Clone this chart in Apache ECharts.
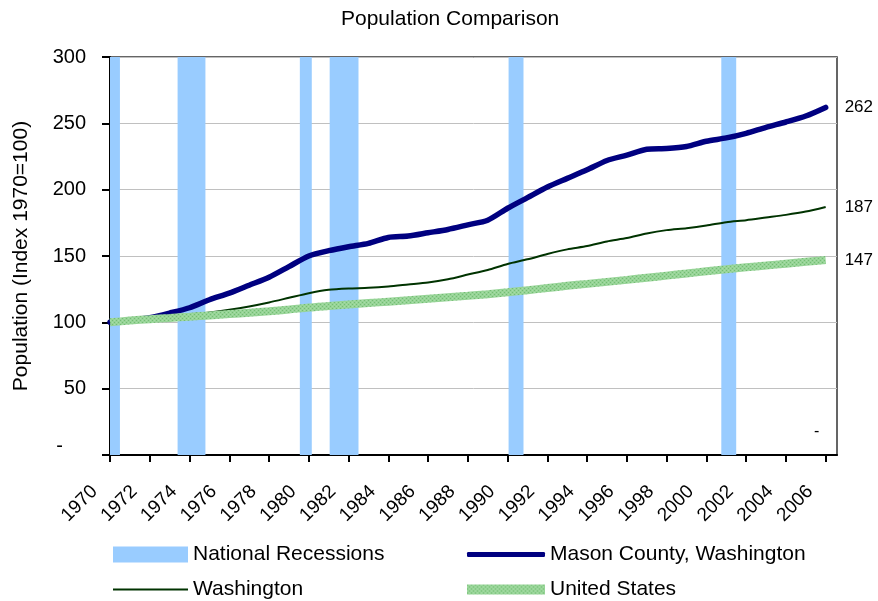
<!DOCTYPE html>
<html>
<head>
<meta charset="utf-8">
<script src="https://cdn.jsdelivr.net/npm/echarts@6/dist/echarts.min.js"></script>
<style>
html,body{margin:0;padding:0;background:#fff;}
#chart{width:878px;height:601px;}
</style>
</head>
<body>
<div id="chart"></div>
<script>
const years = [1970,1971,1972,1973,1974,1975,1976,1977,1978,1979,1980,1981,1982,1983,1984,1985,1986,1987,1988,1989,1990,1991,1992,1993,1994,1995,1996,1997,1998,1999,2000,2001,2002,2003,2004,2005,2006];
const mason = [100,101.5,103.5,107,111,117,122,128,134,142,150,154,157,159.5,164,165,167.5,170,173.5,177,186,194,202,208.5,215,222,226,230.5,231,232.5,236.5,239,242.5,247,251,255.5,262];
const washington = [100,100.5,102,104,106,107.5,109.5,112,115,118.5,122,124.5,125.5,126,127,128.5,130,132.5,136,139.5,144,147.5,151.5,155,157.5,161,163.5,167,169.5,171,173,175.5,177,179,181,183.5,187];
const unitedStates = [100,101.3,102.4,103.3,104.2,105.2,106.2,107.2,108.3,109.6,111.2,112.3,113.4,114.5,115.6,116.7,117.8,118.9,120.0,121.2,122.6,124.2,125.9,127.5,129.0,130.5,132.0,133.6,135.2,136.8,138.5,140.0,141.5,142.8,144.2,145.6,147];
const recessionStart = [1970.0,1973.4,1979.55,1981.05,1990.05,2000.75];
const recessionEnd = [1970.5,1974.8,1980.15,1982.5,1990.8,2001.5];
const xTickLabels = [1970,1972,1974,1976,1978,1980,1982,1984,1986,1988,1990,1992,1994,1996,1998,2000,2002,2004,2006];
const seriesNames = ['National Recessions','Mason County, Washington','Washington','United States'];

const FONT = 'Liberation Sans, Arial, Helvetica, sans-serif';

function makePattern(){
  const c = document.createElement('canvas');
  c.width = 4; c.height = 4;
  const ctx = c.getContext('2d');
  ctx.fillStyle = '#96d496';
  ctx.fillRect(0,0,4,4);
  ctx.fillStyle = '#74bc74';
  ctx.fillRect(0,0,1,1);
  ctx.fillRect(2,2,1,1);
  ctx.fillStyle = '#a8dca8';
  ctx.fillRect(2,0,1,1);
  ctx.fillRect(0,2,1,1);
  return {image: c, repeat: 'repeat'};
}
const usPattern = makePattern();

const pair = arr => years.map((y,i)=>[y, arr[i]]);

const chart = echarts.init(document.getElementById('chart'), null, {renderer:'canvas'});

function legendAt(name, left, top, w, h, icon){
  return {
    left: left, top: top,
    itemWidth: w, itemHeight: h,
    icon: icon,
    itemGap: 0,
    selectedMode: false,
    textStyle: {fontFamily: FONT, fontSize: 21, color: '#000'},
    data: [name]
  };
}

const option = {
  animation: false,
  backgroundColor: '#fff',
  title: {
    text: 'Population Comparison',
    left: 336, top: 4,
    textStyle: {fontFamily: FONT, fontSize: 21, fontWeight: 'normal', color: '#000'}
  },
  legend: [
    legendAt(seriesNames[0], 108, 539, 75, 16, 'rect'),
    legendAt(seriesNames[1], 462, 539, 78, 5, 'roundRect'),
    legendAt(seriesNames[2], 108, 574, 75, 2, 'rect'),
    legendAt(seriesNames[3], 462, 574, 78, 10, 'rect')
  ],
  grid: {
    left: 110, right: 41, top: 57, bottom: 146,
    show: true, borderColor: '#333', borderWidth: 1.5, backgroundColor: 'transparent'
  },
  xAxis: {
    type: 'value',
    min: 1970, max: 2006.57,
    axisLine: {show: true, onZero: false, lineStyle: {color: '#000', width: 2}},
    axisTick: {show: true, length: 7, lineStyle: {color: '#000', width: 2}, customValues: xTickLabels},
    axisLabel: {
      customValues: xTickLabels,
      rotate: 45, margin: 18,
      padding: [0, 22, 0, 0],
      fontFamily: FONT, fontSize: 19, color: '#000',
      formatter: v => String(v)
    },
    splitLine: {show: false}
  },
  yAxis: {
    type: 'value',
    min: 0, max: 300, interval: 50,
    name: 'Population (Index 1970=100)',
    nameLocation: 'middle',
    nameGap: 78,
    nameTextStyle: {fontFamily: FONT, fontSize: 21, color: '#000'},
    axisLine: {show: true, lineStyle: {color: '#000', width: 2}},
    axisTick: {show: true, length: 8, lineStyle: {color: '#000', width: 2}},
    axisLabel: {
      margin: 24,
      fontFamily: FONT, fontSize: 20, color: '#000',
      formatter: v => v === 0 ? '{d|-}' : String(v),
      rich: {d: {fontFamily: FONT, fontSize: 20, color: '#000', padding: [0, 23, 18, 0]}}
    },
    splitLine: {show: true, lineStyle: {color: '#c0c0c0', width: 1}}
  },
  series: [
    {
      name: seriesNames[0],
      type: 'custom',
      itemStyle: {color: '#99ccff'},
      data: recessionStart.map((s,i)=>[s, recessionEnd[i], 0, 300]),
      encode: {x: [0,1], y: [2,3]},
      clip: true,
      z: 1,
      renderItem: function(params, api){
        const a = api.coord([api.value(0), api.value(3)]);
        const b = api.coord([api.value(1), api.value(2)]);
        return {
          type: 'rect',
          shape: {x: a[0], y: a[1], width: b[0]-a[0], height: b[1]-a[1]},
          style: {fill: '#99ccff'}
        };
      }
    },
    {
      name: seriesNames[1],
      type: 'line',
      data: pair(mason),
      symbol: 'none',
      smooth: 0.25,
      z: 3,
      itemStyle: {color: '#000080'},
      lineStyle: {color: '#000080', width: 5.5, cap: 'round', join: 'round'},
      endLabel: {show: true, distance: 19, fontFamily: FONT, fontSize: 17, color: '#000', formatter: p => String(Math.round(p.value[1]))}
    },
    {
      name: seriesNames[2],
      type: 'line',
      data: pair(washington),
      symbol: 'none',
      smooth: 0.25,
      z: 3,
      itemStyle: {color: '#003300'},
      lineStyle: {color: '#003300', width: 2},
      endLabel: {show: true, distance: 19, fontFamily: FONT, fontSize: 17, color: '#000', formatter: p => String(Math.round(p.value[1]))}
    },
    {
      name: seriesNames[3],
      type: 'line',
      data: pair(unitedStates),
      symbol: 'none',
      smooth: 0.25,
      z: 4,
      itemStyle: {color: usPattern},
      lineStyle: {color: usPattern, width: 8},
      endLabel: {show: true, distance: 19, fontFamily: FONT, fontSize: 17, color: '#000', formatter: p => String(Math.round(p.value[1]))}
    }
  ],
  graphic: [
    {type: 'text', left: 814, top: 424, style: {text: '-', fontFamily: FONT, fontSize: 16, fill: '#000'}}
  ]
};
chart.setOption(option);
</script>
</body>
</html>
